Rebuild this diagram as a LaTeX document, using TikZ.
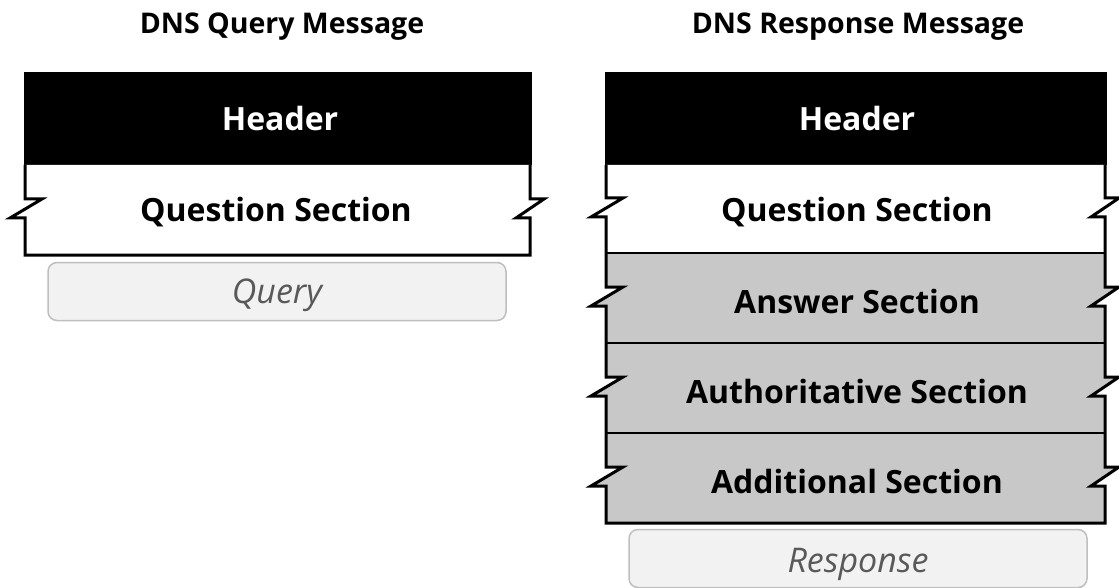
\documentclass[tikz,border=0pt]{standalone}
\usepackage{fontspec}
\setmainfont{Open Sans}
\definecolor{secgray}{RGB}{200,200,200}
\definecolor{tagfill}{RGB}{242,242,242}
\definecolor{tagline}{RGB}{191,191,191}
\definecolor{tagtext}{RGB}{89,89,89}
% torn edge on the left side, walked downwards around mid height #2
\newcommand\tearleft[2]{-- (#1,#2-11) -- (#1+17,#2-11) -- (#1-15,#2+8) -- (#1,#2+8)}
% torn edge on the right side, walked upwards around mid height #2
\newcommand\tearright[2]{-- (#1,#2+8) -- (#1-14,#2+8) -- (#1+14,#2-11) -- (#1,#2-11)}
% one section band: left x, right x, top y, bottom y, fill colour
\newcommand\tornband[5]{%
  \pgfmathsetmacro\bandmid{(#3+#4)/2}%
  \fill[#5] (#1,#3) \tearleft{#1}{\bandmid} -- (#1,#4) -- (#2,#4)
    \tearright{#2}{\bandmid} -- (#2,#3) -- cycle;}
\begin{document}
\begin{tikzpicture}[x=1pt,y=-1pt,
  title/.style={font=\bfseries\fontsize{28.5}{34}\selectfont, anchor=base},
  sectext/.style={font=\bfseries\fontsize{32}{38}\selectfont, anchor=base},
  headtext/.style={sectext, text=white},
  tag/.style={draw=tagline, fill=tagfill, line width=1.5pt, rounded corners=9pt,
    minimum width=458pt, minimum height=58pt, inner sep=0pt},
  tagtext/.style={font=\itshape\fontsize{34}{40}\selectfont, text=tagtext, anchor=base},
  edge/.style={line width=3pt, line join=miter, miter limit=20},
  divider/.style={line width=2pt}]
\useasboundingbox (0,0) rectangle (1119,588);

% ---- query message ----
\node[title] (qtitle) at (282,34) {DNS Query Message};
\fill[black] (23.5,72) rectangle (531.5,165);
\tornband{25}{530}{165}{255}{white}
\draw[edge] (25,165) \tearleft{25}{210} -- (25,255) -- (530,255)
  \tearright{530}{210} -- (530,165);
\node[headtext] (qhead) at (280,131) {Header};
\node[sectext] (qquest) at (276,222) {Question Section};
\node[tag] (qtag) at (277,291.5) {};
\node[tagtext] (qtagtext) at (277,303) {Query};

% ---- response message ----
\node[title] (rtitle) at (858,34) {DNS Response Message};
\fill[black] (604.5,72) rectangle (1106.5,165);
\tornband{606}{1105}{165}{253}{white}
\tornband{606}{1105}{253}{343}{secgray}
\tornband{606}{1105}{343}{433}{secgray}
\tornband{606}{1105}{433}{523}{secgray}
\draw[divider] (606,253) -- (1105,253);
\draw[divider] (606,343) -- (1105,343);
\draw[divider] (606,433) -- (1105,433);
\draw[edge] (606,165) \tearleft{606}{209} -- (606,253)
  \tearleft{606}{298} -- (606,343) \tearleft{606}{388} -- (606,433)
  \tearleft{606}{478} -- (606,523) -- (1105,523)
  \tearright{1105}{478} -- (1105,433) \tearright{1105}{388} -- (1105,343)
  \tearright{1105}{298} -- (1105,253) \tearright{1105}{209} -- (1105,165);
\node[headtext] (rhead) at (857,131) {Header};
\node[sectext] (rquest) at (857,222) {Question Section};
\node[sectext] (ranswer) at (857,313) {Answer Section};
\node[sectext] (rauth) at (857,403) {Authoritative Section};
\node[sectext] (radd) at (857,493) {Additional Section};
\node[tag] (rtag) at (858,558.5) {};
\node[tagtext] (rtagtext) at (858,572) {Response};
\end{tikzpicture}
\end{document}
